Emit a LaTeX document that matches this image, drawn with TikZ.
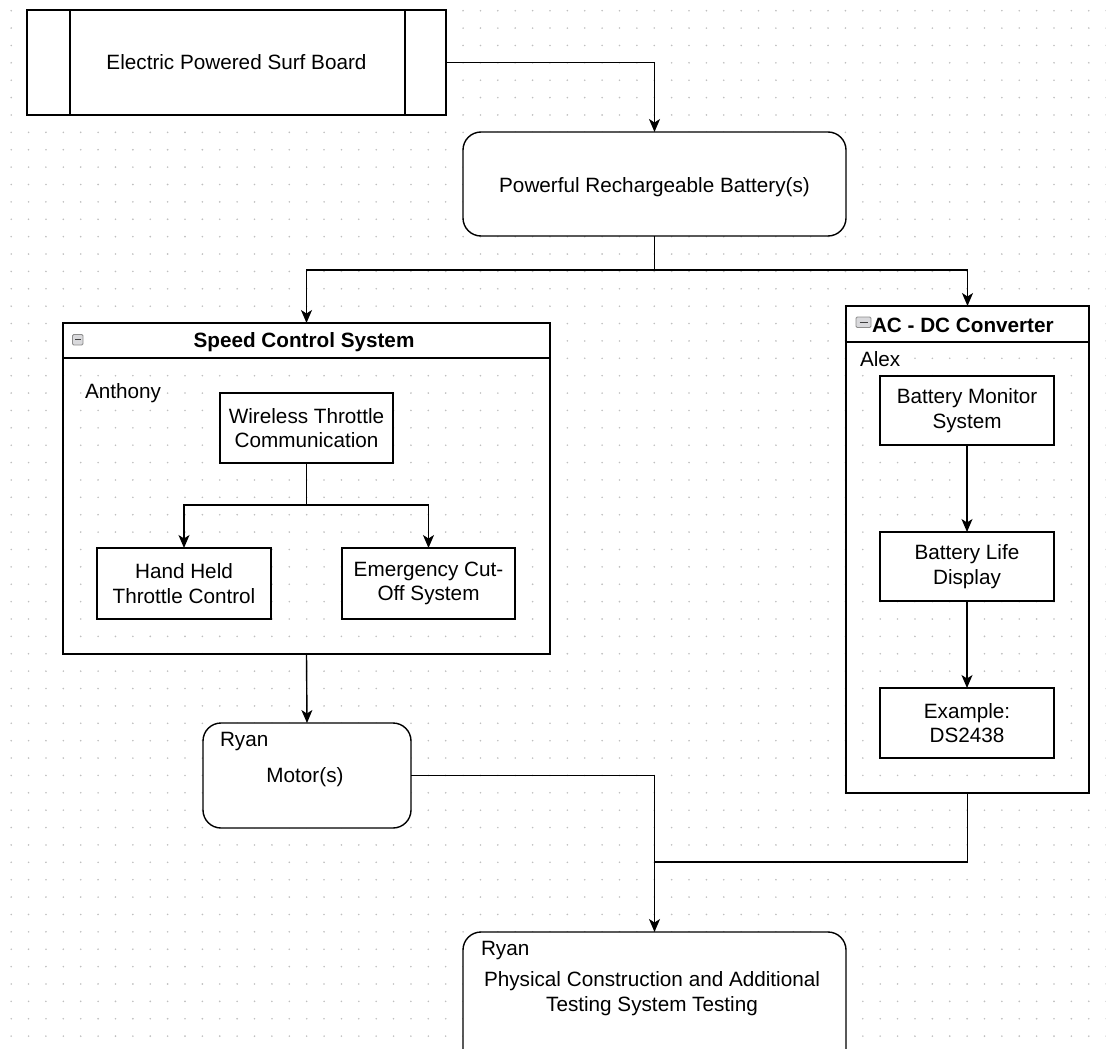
\documentclass[tikz,border=0pt]{standalone}
\usepackage{fontspec}
\setmainfont{Liberation Sans}
\usetikzlibrary{arrows.meta}
\begin{document}
\begin{tikzpicture}[x=1pt,y=-1pt,
  every node/.style={font=\fontsize{20.7}{24.5}\selectfont, inner sep=0pt, outer sep=0pt},
  box/.style={draw, line width=1.4pt, fill=white, align=center},
  rbox/.style={box, rounded corners=18pt},
  cont/.style={draw, line width=1.4pt},
  ln/.style={line width=1.4pt},
  arr/.style={line width=1.4pt, -{Stealth[length=13pt,width=11pt,inset=3.5pt]}},
  dotc/.style={fill=black!25},
  icon/.style={draw=black!45, fill=blue!8!black!15, rounded corners=1.2pt, line width=0.9pt},
]
\useasboundingbox (0,0) rectangle (1106,1049);
\clip (0,0) rectangle (1106,1049);
% background grid of dots
\foreach \i in {0,...,63}{
  \foreach \j in {0,...,60}{
    \fill[dotc] (11.2+\i*17.38, 10.7+\j*17.38) circle (0.9pt);
  }
}
% container headers
\fill[white] (63,323) rectangle (550,358);
\fill[white] (846,306) rectangle (1089,342);

% top block
\node[box, minimum width=419pt, minimum height=105pt] (b1) at (236.5,62.5) {Electric Powered Surf Board};
\draw[ln] ([xshift=43pt]b1.north west) -- ([xshift=43pt]b1.south west);
\draw[ln] ([xshift=-41pt]b1.north east) -- ([xshift=-41pt]b1.south east);

\node[rbox, minimum width=383pt, minimum height=104pt] (bat) at (654.5,184) {};
\node (battxt) at (654.5,187) {Powerful Rechargeable Battery(s)};

% speed control container
\node[cont, minimum width=487pt, minimum height=331pt] (spd) at (306.5,488.5) {};
\draw[ln] ([yshift=-35pt]spd.north west) -- ([yshift=-35pt]spd.north east);
\draw[icon] (72.5,334.5) rectangle (83,345);
\draw[black!75, line width=1.3pt] (75,339.8) -- (80.5,339.8);
\node[font=\fontsize{20.7}{24.5}\selectfont\bfseries] (spdtitle) at (304,342) {Speed Control System};
\node[anchor=west] (anthony) at (85,393) {Anthony};
\node[box, minimum width=173pt, minimum height=70pt] (wt) at (306.5,428) {Wireless Throttle\\Communication};
\node[box, minimum width=174pt, minimum height=71pt] (hh) at (184,583.5) {Hand Held\\Throttle Control};
\node[box, minimum width=173pt, minimum height=71pt] (ec) at (428.5,583.5) {Emergency Cut-\\Off System};
\coordinate (wsplit) at (306.5,505);
\draw[ln] (wt.south) -- (wsplit);
\draw[arr] (wsplit) -| (hh.north);
\draw[arr] (wsplit) -| (ec.north);

% AC-DC container
\node[cont, minimum width=243pt, minimum height=487pt] (acdc) at (967.5,549.5) {};
\draw[ln] ([yshift=-36pt]acdc.north west) -- ([yshift=-36pt]acdc.north east);
\draw[icon] (856,317) rectangle (871,327.5);
\draw[black!75, line width=1.3pt] (859.5,322.2) -- (867.5,322.2);
\node[anchor=west, font=\fontsize{20.7}{24.5}\selectfont\bfseries] (acdctitle) at (872,325) {AC - DC Converter};
\node[anchor=west] (alex) at (860,359) {Alex};
\node[box, minimum width=174pt, minimum height=69pt] (bms) at (967,410.5) {Battery Monitor\\System};
\node[box, minimum width=174pt, minimum height=69pt] (bld) at (967,566.5) {Battery Life\\Display};
\node[box, minimum width=174pt, minimum height=70pt] (ex) at (967,723) {Example:\\DS2438};
\draw[arr] (bms.south) -- (bld.north);
\draw[arr] (bld.south) -- (ex.north);

% motor
\node[rbox, minimum width=208pt, minimum height=105pt] (motor) at (307,775.5) {};
\node[anchor=west] (motorname) at (220,742) {Ryan};
\node (motortxt) at (305,777) {Motor(s)};

% bottom block
\node[rbox, minimum width=383pt, minimum height=140pt] (final) at (654.5,1002) {};
\node[anchor=west] (finalname) at (481,951) {Ryan};
\node[align=center] (finaltxt) at (652,993.5) {Physical Construction and Additional\\Testing System Testing};

% connectors
\draw[arr] (b1.east) -| (bat.north);
\coordinate (bsplit) at (654.5,270);
\draw[ln] (bat.south) -- (bsplit);
\draw[arr] (bsplit) -| (spd.north);
\draw[arr] (bsplit) -| (acdc.north);
\draw[arr] (spd.south) -- (motor.north);
\draw[arr] (motor.east) -| (final.north);
\coordinate (join) at (654.5,862);
\draw[ln] (acdc.south) |- (join);
\end{tikzpicture}
\end{document}
